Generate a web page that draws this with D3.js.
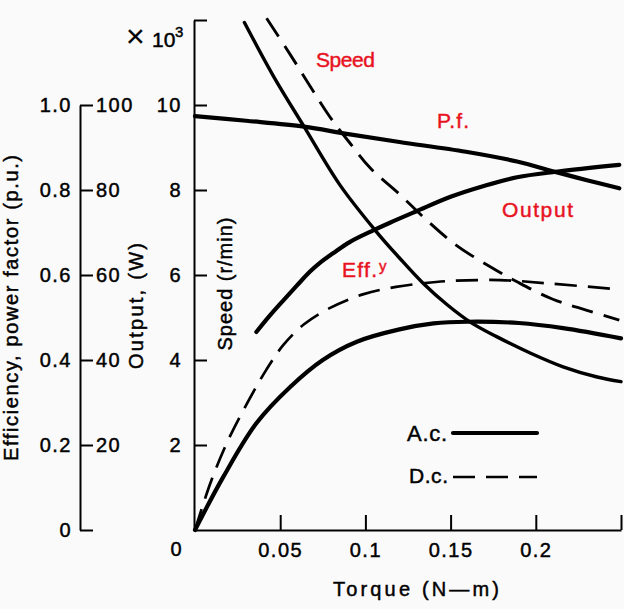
<!DOCTYPE html>
<html><head><meta charset="utf-8">
<script src="https://cdn.jsdelivr.net/npm/d3@7"></script>
<style>
html,body{margin:0;padding:0;background:#fafafa;}
svg text{font-family:"Liberation Sans",Arial,Helvetica,sans-serif;}
</style></head><body>
<svg id="chart" width="624" height="609"></svg>
<script>
// ---------- DATA ----------
// Torque (N-m) axis
const xTicks = [0.05, 0.1, 0.15, 0.2, 0.25];
const xTickLabels = ["0.05", "0.1", "0.15", "0.2", ""];
// Speed axis (x10^3 r/min)
const speedTicks = [2, 4, 6, 8, 10, 12];
const speedTickLabels = ["2", "4", "6", "8", "10", ""];
// Efficiency / power factor axis (p.u.)
const effTicks = [0, 0.2, 0.4, 0.6, 0.8, 1.0];
const effTickLabels = ["0", "0.2", "0.4", "0.6", "0.8", "1.0"];
// Output axis (W)
const outTicks = [0, 20, 40, 60, 80, 100];
const outTickLabels = ["", "20", "40", "60", "80", "100"];

// A.c. speed (x10^3 r/min)
const speedAcTorque = [0.029, 0.046, 0.064, 0.085, 0.106, 0.12, 0.134, 0.148, 0.162, 0.177, 0.197, 0.216, 0.236, 0.25];
const speedAc       = [11.94, 10.68, 9.49, 8.12, 7.04, 6.40, 5.80, 5.30, 4.88, 4.55, 4.16, 3.84, 3.60, 3.49];
// D.c. speed (x10^3 r/min)
const speedDcTorque = [0.042, 0.056, 0.079, 0.091, 0.103, 0.12, 0.136, 0.153, 0.173, 0.189, 0.21, 0.23, 0.249];
const speedDc       = [12.04, 11.18, 9.73, 9.10, 8.51, 7.90, 7.29, 6.71, 6.20, 5.84, 5.43, 5.17, 4.94];
// A.c. power factor (p.u.)
const pfTorque = [0, 0.03, 0.064, 0.089, 0.12, 0.159, 0.189, 0.212, 0.23, 0.249];
const pfAc     = [0.974, 0.963, 0.949, 0.932, 0.913, 0.890, 0.867, 0.842, 0.823, 0.804];
// A.c. output (W)
const outputTorque = [0.036, 0.044, 0.052, 0.06, 0.0675, 0.074, 0.081, 0.091, 0.1046, 0.1144, 0.13, 0.15, 0.17, 0.189, 0.212, 0.249];
const outputAc     = [46.6, 50.5, 54.1, 57.6, 60.8, 63.1, 65.1, 67.8, 70.5, 72.3, 75.0, 78.4, 81.0, 83.0, 84.3, 85.9];
// A.c. efficiency (p.u.)
const effAcTorque = [0, 0.0166, 0.036, 0.056, 0.075, 0.095, 0.12, 0.14, 0.16, 0.19, 0.216, 0.25];
const effAc       = [0, 0.125, 0.251, 0.337, 0.40, 0.443, 0.472, 0.486, 0.49, 0.487, 0.475, 0.451];
// D.c. efficiency (p.u.)
const effDcTorque = [0, 0.009, 0.0186, 0.0284, 0.042, 0.052, 0.064, 0.079, 0.099, 0.118, 0.135, 0.15, 0.179, 0.208, 0.249];
const effDc       = [0, 0.11, 0.204, 0.282, 0.378, 0.436, 0.484, 0.522, 0.555, 0.572, 0.581, 0.586, 0.588, 0.58, 0.566];

// ---------- CHART ----------
const RED = "#e8131f";
const svg = d3.select("#chart");
svg.append("rect").attr("width", 624).attr("height", 609).attr("fill", "#fafafa");

const x = d3.scaleLinear().domain([0, 0.25]).range([195, 621]);
const ySpeed = d3.scaleLinear().domain([0, 12]).range([530, 20]);
const yEff = d3.scaleLinear().domain([0, 1]).range([ySpeed(0), ySpeed(10)]);
const yOut = d3.scaleLinear().domain([0, 100]).range([ySpeed(0), ySpeed(10)]);

function thick(sel, color) {
  return sel.attr("stroke", color || "#000").attr("stroke-width", 0.45).attr("paint-order", "stroke");
}

function styleAxis(g, fs) {
  g.attr("font-family", null).attr("font-size", null);
  g.selectAll("path.domain").attr("stroke", "#000").attr("stroke-width", 2);
  g.selectAll(".tick line").attr("stroke", "#000").attr("stroke-width", 2);
  thick(g.selectAll(".tick text").attr("fill", "#000").style("font-size", fs + "px").style("letter-spacing", "1.5px"));
}

// Efficiency / output axis
const gOut = svg.append("g").attr("transform", "translate(80,0)")
  .call(d3.axisRight(yOut).tickValues(outTicks).tickFormat((d, i) => outTickLabels[i])
    .tickSizeInner(13).tickSizeOuter(0).tickPadding(3));
styleAxis(gOut, 20);
const gEff = svg.append("g").attr("transform", "translate(80,0)")
  .call(d3.axisLeft(yEff).tickValues(effTicks).tickFormat((d, i) => effTickLabels[i])
    .tickSize(0).tickPadding(8));
gEff.select("path.domain").remove();
styleAxis(gEff, 20);

// Speed axis
const gSpeed = svg.append("g").attr("transform", "translate(194,0)")
  .call(d3.axisLeft(ySpeed).tickValues(speedTicks).tickFormat((d, i) => speedTickLabels[i])
    .tickSizeInner(-13).tickSizeOuter(0).tickPadding(12));
styleAxis(gSpeed, 20);

// Torque axis
const gX = svg.append("g").attr("transform", "translate(0,530)")
  .call(d3.axisBottom(x).tickValues(xTicks).tickFormat((d, i) => xTickLabels[i])
    .tickSizeInner(-15).tickSizeOuter(0).tickPadding(13));
styleAxis(gX, 20);

thick(svg.append("text").attr("x", 176).attr("y", 556).attr("text-anchor", "middle")
  .style("font-size", "20px").text("0"));

// x10^3
const mult = thick(svg.append("text").attr("x", 126).attr("y", 47).style("font-size", "21px"));
mult.append("tspan").text("×").style("font-size", "32px").attr("stroke-width", 0.2);
mult.append("tspan").attr("x", 152).text("10");
mult.append("tspan").attr("x", 175).attr("y", 37).style("font-size", "15px").text("3");

// Axis titles
function title(txt, tx, ty, rot, len) {
  thick(svg.append("text").attr("transform", `translate(${tx},${ty})` + (rot ? " rotate(-90)" : ""))
    .attr("text-anchor", "middle").style("font-size", "20px")
    .attr("textLength", len).attr("lengthAdjust", "spacing").text(txt));
}
title("Efficiency, power factor (p.u.)", 18, 308, true, 306);
title("Output, (W)", 143, 306, true, 126);
title("Speed (r/min)", 232, 284, true, 133);
title("Torque (N—m)", 416, 596, false, 166);

// Curves
const curve = d3.curveCatmullRom.alpha(0.5);
function drawSeries(xs, ys, yScale, width, dashed) {
  const pts = xs.map((v, i) => [v, ys[i]]);
  svg.append("path").datum(pts)
    .attr("d", d3.line().x(d => x(d[0])).y(d => yScale(d[1])).curve(curve))
    .attr("fill", "none").attr("stroke", "#000").attr("stroke-width", width)
    .attr("stroke-dasharray", dashed ? "22,11" : null)
    .attr("stroke-linecap", dashed ? "butt" : "round");
}
drawSeries(effDcTorque, effDc, yEff, 2.7, true);
drawSeries(speedDcTorque, speedDc, ySpeed, 2.9, true);
drawSeries(effAcTorque, effAc, yEff, 4.2, false);
drawSeries(outputTorque, outputAc, yOut, 4.2, false);
drawSeries(pfTorque, pfAc, yEff, 4.2, false);
drawSeries(speedAcTorque, speedAc, ySpeed, 3.4, false);

// Curve labels (red)
function redLabel(txt, xx, yy, len) {
  return thick(svg.append("text").attr("x", xx).attr("y", yy).attr("fill", RED)
    .style("font-size", "21px").attr("textLength", len).attr("lengthAdjust", "spacing").text(txt), RED);
}
redLabel("Speed", 316, 67, 59);
redLabel("P.f.", 437, 128, 32);
redLabel("Output", 502, 217, 71);
const eff = thick(svg.append("text").attr("x", 342).attr("y", 277).attr("fill", RED).style("font-size", "21px"), RED);
eff.append("tspan").attr("textLength", 35).attr("lengthAdjust", "spacing").text("Eff.");
eff.append("tspan").attr("x", 379).attr("y", 271).style("font-size", "15px").text("y");

// Legend
thick(svg.append("text").attr("x", 407).attr("y", 441).style("font-size", "22px")
  .attr("textLength", 40).attr("lengthAdjust", "spacing").text("A.c."));
thick(svg.append("text").attr("x", 409).attr("y", 483).style("font-size", "21px")
  .attr("textLength", 39).attr("lengthAdjust", "spacing").text("D.c."));
svg.append("line").attr("x1", 453).attr("x2", 537).attr("y1", 433).attr("y2", 433)
  .attr("stroke", "#000").attr("stroke-width", 4.2).attr("stroke-linecap", "round");
svg.append("line").attr("x1", 453).attr("x2", 537).attr("y1", 477).attr("y2", 477)
  .attr("stroke", "#000").attr("stroke-width", 2.7).attr("stroke-dasharray", "22,11");
</script>
</body></html>
